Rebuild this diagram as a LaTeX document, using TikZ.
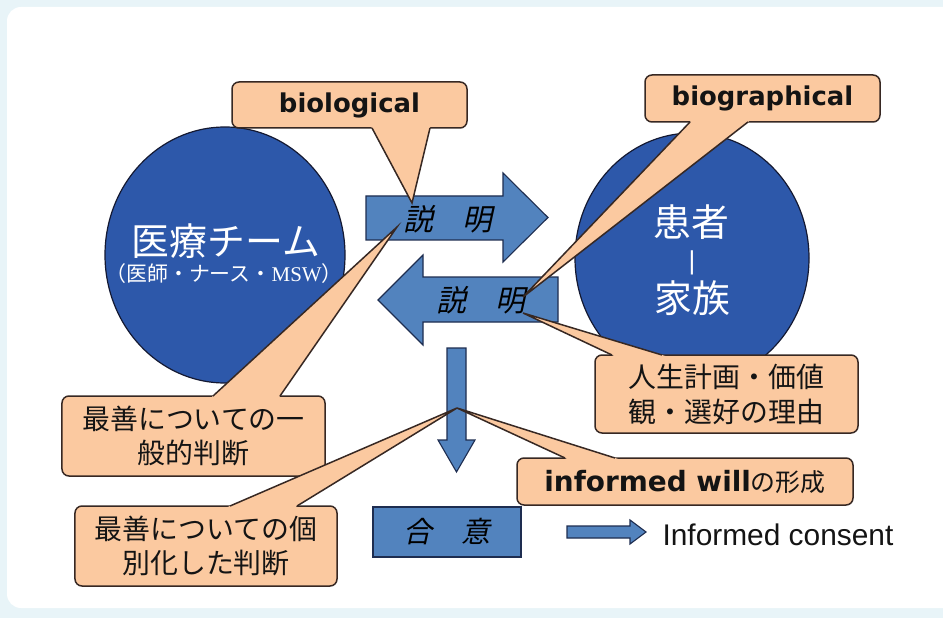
\documentclass[tikz,border=0pt]{standalone}
\usepackage{fontspec}
\usetikzlibrary{shapes.geometric,calc}
\newfontfamily\jpfont{Noto Sans CJK JP}
\newfontfamily\jpslant[FakeSlant=0.22]{Noto Sans CJK JP}
\newfontfamily\latfont{DejaVu Sans}
\newfontfamily\consfont{Liberation Sans}
\newfontfamily\serfont{Liberation Serif}
\definecolor{peach}{RGB}{251,201,160}
\definecolor{calloutline}{RGB}{55,40,35}
\definecolor{arrowblue}{RGB}{82,131,190}
\definecolor{arrowline}{RGB}{30,45,80}
\definecolor{circblue}{RGB}{45,88,170}
\definecolor{circline}{RGB}{20,25,50}
\definecolor{bgblue}{RGB}{232,244,248}
\definecolor{inktext}{RGB}{20,20,20}
\newcommand\fsz[2]{\fontsize{#1}{#2}\selectfont}
\newcommand\wedgeshape[3]{%
  \fill[peach] ($(#1)!-4bp!(#3)$) -- (#3) -- ($(#2)!-4bp!(#3)$) -- cycle;
  \draw[wedgeline] (#1) -- (#3) -- (#2);}
\tikzset{
  calloutbox/.style={draw=calloutline, fill=peach, line width=1.5bp, rounded corners=7bp,
    inner sep=0pt, align=center, text=inktext},
  wedgeline/.style={draw=calloutline, line width=1.5bp},
  bigarrow/.style={draw=arrowline, fill=arrowblue, line width=1.1bp},
  circ/.style={ellipse, draw=circline, fill=circblue, line width=1.2bp, inner sep=0pt},
  arrowtext/.style={font=\jpslant\fsz{30}{32}, text=black},
  circtext/.style={text=white},
  jptext/.style={font=\jpfont\fsz{28}{35}}
}
\begin{document}
\begin{tikzpicture}[x=1bp,y=-1bp]
\useasboundingbox (0,0) rectangle (943,618);
\fill[bgblue] (0,0) rectangle (943,618);
\fill[white, rounded corners=14bp] (7,7) rectangle (965,608);

% circles
\node[circ, minimum width=240bp, minimum height=256bp] (team) at (225,255) {};
\node[circ, minimum width=234bp, minimum height=250bp] (patient) at (692,258) {};
\node[circtext, font=\jpfont\fsz{38}{40}] (teamT) at (226,241) {医療チーム};
\node[circtext, font=\jpfont\fsz{21}{22}] (teamS) at (224,274) {（医師・ナース・{\serfont MSW}）};
\node[circtext, font=\jpfont\fsz{38}{40}] (pat1) at (691,222) {患者};
\node[circtext, font=\consfont\fsz{26}{28}] (pat2) at (692,263) {|};
\node[circtext, font=\jpfont\fsz{38}{40}] (pat3) at (692,298) {家族};

% arrows
\draw[bigarrow] (366,196) -- (503,196) -- (503,173) -- (548,217.5) -- (503,262) -- (503,240) -- (366,240) -- cycle;
\node[arrowtext] (exp1) at (448,219) {説　明};
\draw[bigarrow] (558,277) -- (423,277) -- (423,255) -- (378,300) -- (423,345) -- (423,322) -- (558,322) -- cycle;
\node[arrowtext] (exp2) at (481,300) {説　明};
\draw[bigarrow] (447,348) -- (466,348) -- (466,440) -- (475,440) -- (456.5,472) -- (438,440) -- (447,440) -- cycle;
\node[draw=arrowline, fill=arrowblue, line width=1.1bp, minimum width=148bp, minimum height=50bp, inner sep=0pt,
  font=\jpslant\fsz{29}{32}] (agree) at (447,532) {合　意};
\draw[bigarrow] (567,526) -- (630,526) -- (630,520) -- (646,532) -- (630,544) -- (630,538) -- (567,538) -- cycle;
\node[anchor=west, font=\consfont\fsz{30}{32}, text=inktext] (ic) at (659,535) {Informed consent};

% callouts
\node[calloutbox, minimum width=235bp, minimum height=46bp, font=\latfont\bfseries\fsz{26}{30}] (bio) at (349.5,105) {biological};
\coordinate (bioL) at (372,128); \coordinate (bioR) at (430,128); \coordinate (bioTip) at (412,203);
\wedgeshape{bioL}{bioR}{bioTip}

\node[calloutbox, minimum width=235bp, minimum height=47bp, font=\latfont\bfseries\fsz{26}{30}] (biog) at (762.5,98.5) {biographical};
\coordinate (biogL) at (690,122); \coordinate (biogR) at (748,122); \coordinate (biogTip) at (523,297);
\wedgeshape{biogL}{biogR}{biogTip}

\node[calloutbox, jptext, minimum width=263bp, minimum height=80bp] (gen) at (193.5,436) {最善についての一\\般的判断};
\coordinate (genL) at (213,396); \coordinate (genR) at (280,396); \coordinate (genTip) at (397,227);
\wedgeshape{genL}{genR}{genTip}

\node[calloutbox, jptext, minimum width=263bp, minimum height=78bp] (life) at (726.5,394) {人生計画・価値\\観・選好の理由};
\coordinate (lifeL) at (612,355); \coordinate (lifeR) at (662,355); \coordinate (lifeTip) at (523,313);
\wedgeshape{lifeL}{lifeR}{lifeTip}

\node[calloutbox, minimum width=336bp, minimum height=47bp] (will) at (685,481.5)
  {{\latfont\bfseries\fsz{28}{30}informed will}{\jpfont\fsz{25}{30}の形成}};
\coordinate (willL) at (565,458); \coordinate (willR) at (615,458); \coordinate (willTip) at (457,408);
\wedgeshape{willL}{willR}{willTip}

\node[calloutbox, jptext, minimum width=262bp, minimum height=80bp] (indiv) at (206,546) {最善についての個\\別化した判断};
\coordinate (indL) at (230,506); \coordinate (indR) at (297,506); \coordinate (indTip) at (457,408);
\wedgeshape{indL}{indR}{indTip}
\end{tikzpicture}
\end{document}
